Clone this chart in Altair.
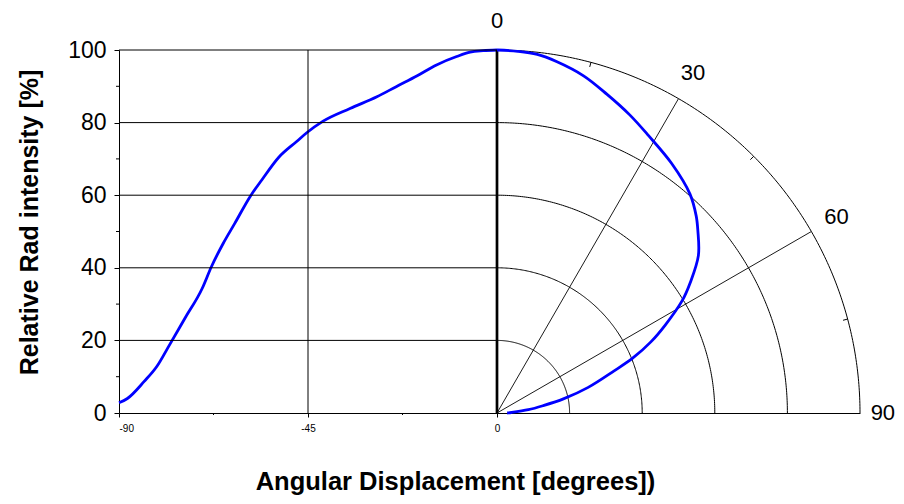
import altair as alt
import numpy as np
import pandas as pd

# ---- data ----
angle = [-90, -88, -84, -81, -78, -74.3, -70.2, -68, -65.2, -62.4, -58.8, -56, -52,
         -47.7, -45.3, -41.4, -35, -28.6, -24, -19, -14.4, -9.6, -6.4, -3.3, 0]
intensity = [2.8, 4.0, 8.7, 12.8, 18.7, 26.1, 34.3, 40.3, 46.7, 52.3, 59.6, 64.2, 70.4,
             74.8, 77.2, 80.4, 83.9, 87.1, 89.9, 92.9, 95.9, 98.2, 99.4, 99.8, 100]

radii = [20, 40, 60, 80, 100]          # polar rings
spokes = [30, 60]                      # radial lines
outer_ticks = [15, 45, 75]             # minor ticks on outer ring
polar_labels = [0, 30, 60, 90]         # angle labels round the quarter circle
y_grid = [20, 40, 60, 80, 100]
x_major = [-90, -45, 0]
x_minor = [-67.5, -22.5]
y_major = [0, 20, 40, 60, 80, 100]
y_minor = [10, 30, 50, 70, 90]

# layout: 90 degrees span 378 px, 100 % span 363 px -> x units per y unit
K = 363 / 420
XMAX = 100 * K
W, H = 741, 363

x_scale = alt.Scale(domain=[-90, XMAX], nice=False, zero=False)
y_scale = alt.Scale(domain=[0, 100], nice=False, zero=False)

x_axis = alt.Axis(
    values=x_major,
    labelExpr="'' + datum.value",
    tickSize=4,
    labelFontSize=10, labelPadding=6, grid=False,
    domainColor="black", tickColor="black", labelColor="black",
    title="Angular Displacement [degrees])", titleFontSize=25.5, titleFontWeight="bold",
    titleColor="black", titleX=336, titleY=76, titleBaseline="alphabetic", titleAlign="center",
)
y_axis = alt.Axis(
    values=y_major,
    tickSize=5,
    labelFontSize=23, labelPadding=8, grid=False,
    domainColor="black", tickColor="black", labelColor="black",
    title="Relative Rad intensity [%]", titleFontSize=25, titleFontWeight="bold",
    titleColor="black", titleX=-82, titleY=172, titleBaseline="alphabetic",
    titleAlign="center", titleAngle=270,
)

def X(field):
    return alt.X(field, scale=x_scale, axis=x_axis, title="Angular Displacement [degrees])")

def Y(field):
    return alt.Y(field, scale=y_scale, axis=y_axis, title="Relative Rad intensity [%]")

df = pd.DataFrame({"angle": angle, "intensity": intensity})
arc_df = pd.DataFrame([(r, t) for r in radii for t in np.arange(0, 90.25, 0.5)],
                      columns=["r", "t"])

def sx(r, a):
    return f"({r})*sin(({a})*PI/180)*{K}"

def sy(r, a):
    return f"({r})*cos(({a})*PI/180)"

curve = alt.Chart(df).mark_line(color="#0000FF", strokeWidth=2.8, interpolate="monotone").encode(
    x=X("angle:Q"), y=Y("intensity:Q"),
)

hgrid = alt.Chart(pd.DataFrame({"v": y_grid})).transform_calculate(
    x0="-90", x1="0"
).mark_rule(color="black", strokeWidth=1).encode(
    x=X("x0:Q"), x2="x1:Q", y=Y("v:Q"),
)

vgrid = alt.Chart(pd.DataFrame({"v": [-45]})).transform_calculate(
    y0="0", y1="100"
).mark_rule(color="black", strokeWidth=1).encode(
    x=X("v:Q"), y=Y("y0:Q"), y2="y1:Q",
)

zero_line = alt.Chart(pd.DataFrame({"v": [0]})).transform_calculate(
    y0="0", y1="100"
).mark_rule(color="black", strokeWidth=2.7).encode(
    x=X("v:Q"), y=Y("y0:Q"), y2="y1:Q",
)

y_minor_ticks = alt.Chart(pd.DataFrame({"v": y_minor})).mark_rule(
    color="black", strokeWidth=1
).encode(
    x=alt.value(-3), x2=alt.value(0), y=Y("v:Q"),
)

x_minor_ticks = alt.Chart(pd.DataFrame({"v": x_minor})).mark_rule(
    color="black", strokeWidth=1
).encode(
    x=X("v:Q"), y=alt.value(H), y2=alt.value(H + 2),
)

arcs = alt.Chart(arc_df).transform_calculate(
    ax=sx("datum.r", "datum.t"), ay=sy("datum.r", "datum.t")
).mark_line(color="black", strokeWidth=1).encode(
    x=X("ax:Q"), y=Y("ay:Q"), detail="r:N", order="t:Q",
)

spoke_lines = alt.Chart(pd.DataFrame({"deg": spokes})).transform_calculate(
    ox="0", oy="0", x1=sx(100, "datum.deg"), y1=sy(100, "datum.deg")
).mark_rule(color="black", strokeWidth=0.9).encode(
    x=X("ox:Q"), y=Y("oy:Q"), x2="x1:Q", y2="y1:Q",
)

ring_ticks = alt.Chart(pd.DataFrame({"deg": outer_ticks})).transform_calculate(
    xa=sx(100, "datum.deg"), ya=sy(100, "datum.deg"),
    xb=sx(98.7, "datum.deg"), yb=sy(98.7, "datum.deg"),
).mark_rule(color="black", strokeWidth=1).encode(
    x=X("xa:Q"), y=Y("ya:Q"), x2="xb:Q", y2="yb:Q",
)

ring_labels = alt.Chart(pd.DataFrame({"deg": polar_labels})).transform_calculate(
    lr="datum.deg == 90 ? 106.3 : 108",
).transform_calculate(
    lx=sx("datum.lr", "datum.deg"), ly=sy("datum.lr", "datum.deg")
).mark_text(fontSize=22, color="black", align="center", baseline="middle").encode(
    x=X("lx:Q"), y=Y("ly:Q"), text="deg:Q",
)

polar_curve = alt.Chart(df).transform_calculate(
    px=sx("datum.intensity", "abs(datum.angle)"),
    py=sy("datum.intensity", "abs(datum.angle)"),
).mark_line(color="#0000FF", strokeWidth=2.8, interpolate="catmull-rom").encode(
    x=X("px:Q"), y=Y("py:Q"),
    order=alt.Order("angle:Q", sort="descending"),
)

chart = alt.layer(
    curve, hgrid, vgrid, arcs, spoke_lines, ring_ticks, zero_line,
    y_minor_ticks, x_minor_ticks, polar_curve, ring_labels,
).properties(
    width=W, height=H,
    autosize=alt.AutoSizeParams(type="none"),
    padding={"left": 111, "top": 42, "right": 36, "bottom": 83},
).configure(
    font="Liberation Sans",
).configure_view(stroke=None)

chart.save("out.html", embed_options={"renderer": "svg", "actions": False})
